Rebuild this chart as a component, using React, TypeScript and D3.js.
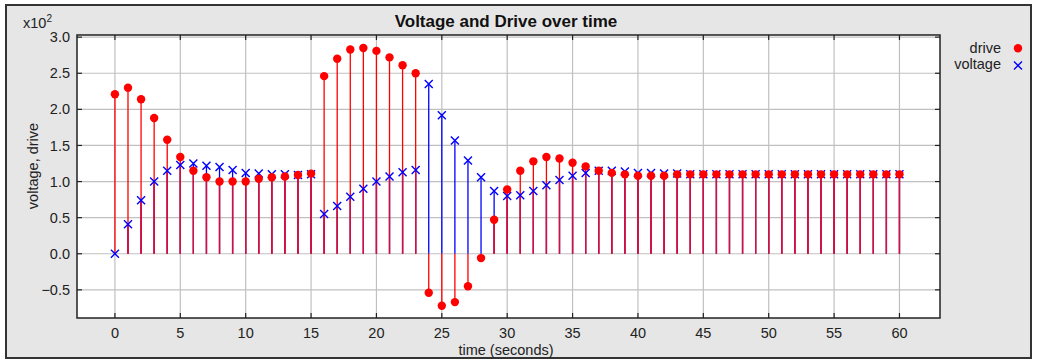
import * as d3 from 'd3';

// time axis (seconds)
const times = d3.range(0, 61);

// values in raw units (axis shows them x10^2)
const drive = [
  221, 230, 214, 188, 158, 134, 115, 106, 100, 100, 100, 104, 106, 107, 109, 111,
  246, 270, 283, 285, 281, 272, 261, 250, -54, -72, -67, -45, -6, 47, 89,
  115, 128, 134, 132, 126, 121, 115, 112, 110, 108, 108, 108, 110, 110, 110,
  110, 110, 110, 110, 110, 110, 110, 110, 110, 110, 110, 110, 110, 110, 110,
];
const voltage = [
  0, 41, 74, 100, 115, 123, 125, 122, 120, 116, 112, 111, 110, 110, 109, 110,
  55, 66, 79, 90, 100, 107, 113, 116, 235, 192, 157, 129, 106, 87, 80,
  81, 87, 95, 102, 108, 112, 115, 115, 114, 112, 112, 111, 111, 110, 110,
  110, 110, 110, 110, 110, 110, 110, 110, 110, 110, 110, 110, 110, 110, 110,
];

const xTicks = [0, 5, 10, 15, 20, 25, 30, 35, 40, 45, 50, 55, 60];
const yTicks = [-50, 0, 50, 100, 150, 200, 250, 300];

const W = 1037;
const H = 360;
const left = 77, right = 940, top = 35, bottom = 318;
const font = '"Liberation Sans", Arial, Helvetica, sans-serif';

export default function App() {
  const x = d3.scaleLinear().domain([-2.9, 63.1]).range([left, right]);
  const y = d3.scaleLinear().domain([-89, 303]).range([bottom, top]);
  const fmt = d3.format('.1f');

  const y0 = y(0);
  const TL = 5; // tick length (inward)

  return (
    <svg width={W} height={H} style={{ position: 'absolute', left: 0, top: 0 }} fontFamily={font}>
      <rect x={6} y={5} width={1025} height={353} fill="#e6e6e6" stroke="#333" strokeWidth={2} />
      <rect x={left} y={top} width={right - left} height={bottom - top} fill="#fff" />

      {/* grid */}
      {xTicks.map(t => (
        <line key={'gx' + t} x1={x(t)} x2={x(t)} y1={top} y2={bottom} stroke="#c0c0c0" strokeWidth={1.2} />
      ))}
      {yTicks.map(t => (
        <line key={'gy' + t} x1={left} x2={right} y1={y(t)} y2={y(t)} stroke="#c0c0c0" strokeWidth={1.2} />
      ))}

      {/* stems */}
      {times.map((t, i) => {
        const d = drive[i], v = voltage[i];
        const same = d * v > 0;
        const ov = same ? (Math.abs(d) < Math.abs(v) ? d : v) : 0;
        return (
          <g key={'s' + t} strokeWidth={1.3}>
            <line x1={x(t)} x2={x(t)} y1={y0} y2={y(v)} stroke="#0000ff" />
            <line x1={x(t)} x2={x(t)} y1={y0} y2={y(d)} stroke="#ff0000" />
            {same && <line x1={x(t)} x2={x(t)} y1={y0} y2={y(ov)} stroke="#d2103e" />}
          </g>
        );
      })}

      {/* voltage markers */}
      {times.map((t, i) => {
        const cx = x(t), cy = y(voltage[i]);
        return (
          <path key={'v' + t} d={`M${cx - 4},${cy - 4}L${cx + 4},${cy + 4}M${cx - 4},${cy + 4}L${cx + 4},${cy - 4}`}
            stroke="#0000ff" strokeWidth={1.4} fill="none" />
        );
      })}
      {/* drive markers */}
      {times.map((t, i) => (
        <circle key={'d' + t} cx={x(t)} cy={y(drive[i])} r={4.2} fill="#ff0000" />
      ))}

      {/* frame + ticks */}
      <rect x={left} y={top} width={right - left} height={bottom - top} fill="none" stroke="#222" strokeWidth={1.5} />
      {xTicks.map(t => (
        <g key={'tx' + t} stroke="#222" strokeWidth={1.2}>
          <line x1={x(t)} x2={x(t)} y1={bottom} y2={bottom - TL} />
          <line x1={x(t)} x2={x(t)} y1={top} y2={top + TL} />
        </g>
      ))}
      {yTicks.map(t => (
        <g key={'ty' + t} stroke="#222" strokeWidth={1.2}>
          <line x1={left} x2={left + TL} y1={y(t)} y2={y(t)} />
          <line x1={right} x2={right - TL} y1={y(t)} y2={y(t)} />
        </g>
      ))}

      {/* tick labels */}
      {xTicks.map(t => (
        <text key={'lx' + t} x={x(t)} y={338} textAnchor="middle" fontSize={14.5} fill="#222">{t}</text>
      ))}
      {yTicks.map(t => (
        <text key={'ly' + t} x={70} y={y(t)} dy="0.35em" textAnchor="end" fontSize={14.5} fill="#222">{fmt(t / 100)}</text>
      ))}
      <text x={23} y={28} fontSize={14.5} fill="#222">x10<tspan dy={-6} fontSize={10}>2</tspan></text>

      {/* titles */}
      <text x={506} y={27} textAnchor="middle" fontSize={17} fontWeight="bold" fill="#111">Voltage and Drive over time</text>
      <text x={506} y={355} textAnchor="middle" fontSize={14.5} fill="#222">time (seconds)</text>
      <text transform="translate(38,166) rotate(-90)" textAnchor="middle" fontSize={14.5} fill="#222">voltage, drive</text>

      {/* legend */}
      <text x={1001} y={52.5} textAnchor="end" fontSize={14.5} fill="#222">drive</text>
      <circle cx={1018} cy={48.3} r={4.2} fill="#ff0000" />
      <text x={1001} y={69} textAnchor="end" fontSize={14.5} fill="#222">voltage</text>
      <path d={`M1014,61.5L1022,69.5M1014,69.5L1022,61.5`} stroke="#0000ff" strokeWidth={1.4} fill="none" />
    </svg>
  );
}
